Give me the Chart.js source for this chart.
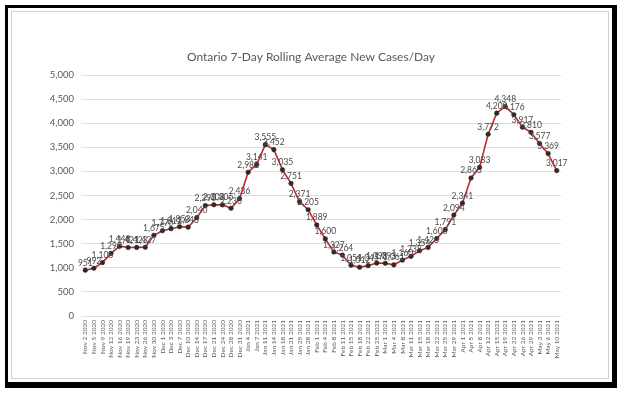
<!DOCTYPE html>
<html>
<head>
<meta charset="utf-8">
<script src="https://cdn.jsdelivr.net/npm/chart.js@4/dist/chart.umd.min.js"></script>
<style>
  html, body { margin: 0; padding: 0; background: #fff; }
  #wrap { position: relative; width: 624px; height: 394px; overflow: hidden; }
  #c { position: absolute; left: 0; top: 0; }
  #frame { position: absolute; left: 5px; top: 5px; width: 604px; height: 374px;
           border-left: 3px solid #000; border-top: 3px solid #000;
           border-right: 5px solid #000; border-bottom: 6px solid #000; pointer-events: none; }
  #inner { position: absolute; left: 11px; top: 11px; width: 596px; height: 366px;
           border: 1px solid #d0d0d0; pointer-events: none; }
</style>
</head>
<body>
<div id="wrap">
  <canvas id="c" width="624" height="394"></canvas>
  <div id="inner"></div>
  <div id="frame"></div>
</div>
<script>
const titleText = "Ontario 7-Day Rolling Average New Cases/Day";

const dates = [
  "Nov 2 2020","Nov 5 2020","Nov 9 2020","Nov 12 2020","Nov 16 2020","Nov 19 2020",
  "Nov 23 2020","Nov 26 2020","Nov 30 2020","Dec 1 2020","Dec 3 2020","Dec 7 2020",
  "Dec 10 2020","Dec 14 2020","Dec 17 2020","Dec 21 2020","Dec 24 2020","Dec 28 2020",
  "Dec 31 2020","Jan 4 2021","Jan 7 2021","Jan 11 2021","Jan 14 2021","Jan 18 2021",
  "Jan 21 2021","Jan 25 2021","Jan 28 2021","Feb 1 2021","Feb 4 2021","Feb 8 2021",
  "Feb 11 2021","Feb 15 2021","Feb 18 2021","Feb 22 2021","Feb 25 2021","Mar 1 2021",
  "Mar 4 2021","Mar 8 2021","Mar 11 2021","Mar 15 2021","Mar 18 2021","Mar 22 2021",
  "Mar 25 2021","Mar 29 2021","Apr 1 2021","Apr 5 2021","Apr 8 2021","Apr 12 2021",
  "Apr 15 2021","Apr 19 2021","Apr 22 2021","Apr 26 2021","Apr 29 2021","May 3 2021",
  "May 6 2021","May 10 2021"
];

const avgCases = [
  951, 992, 1108, 1299, 1448, 1421, 1423, 1427, 1675, 1770, 1812, 1853,
  1843, 2040, 2290, 2308, 2306, 2236, 2436, 2982, 3141, 3555, 3452, 3035,
  2751, 2371, 2205, 1889, 1600, 1327, 1264, 1054, 1012, 1045, 1098, 1093,
  1061, 1160, 1238, 1354, 1423, 1608, 1791, 2094, 2341, 2863, 3083, 3772,
  4208, 4348, 4176, 3917, 3810, 3577, 3369, 3017
];

const yMin = 0, yMax = 5000, yStep = 500;

const fmt = v => v.toLocaleString('en-US');

const pointLabels = {
  id: 'pointLabels',
  afterDatasetsDraw(chart) {
    const ctx = chart.ctx;
    const meta = chart.getDatasetMeta(0);
    const data = chart.data.datasets[0].data;
    ctx.save();
    ctx.font = '8.5px Lato, "Liberation Sans", sans-serif';
    ctx.fillStyle = '#4a4a4a';
    ctx.textAlign = 'center';
    ctx.textBaseline = 'bottom';
    meta.data.forEach((pt, i) => {
      ctx.fillText(fmt(data[i]), pt.x, pt.y - 3);
    });
    ctx.restore();
  }
};

const chartTitle = {
  id: 'chartTitle',
  afterDraw(chart) {
    const ctx = chart.ctx;
    ctx.save();
    ctx.font = '12px Lato, "Open Sans", sans-serif';
    ctx.fillStyle = '#595959';
    ctx.textAlign = 'center';
    ctx.textBaseline = 'middle';
    ctx.fillText(titleText, 311, 57);
    ctx.restore();
  }
};

new Chart(document.getElementById('c'), {
  type: 'line',
  data: {
    labels: dates,
    datasets: [{
      data: avgCases,
      borderColor: '#c0282a',
      borderWidth: 1.6,
      pointRadius: 2.3,
      pointBackgroundColor: '#2b2b2b',
      pointBorderColor: '#2b2b2b',
      pointBorderWidth: 0.5,
      tension: 0,
      fill: false
    }]
  },
  options: {
    responsive: false,
    animation: false,
    devicePixelRatio: 1,
    layout: { padding: { left: 0, right: 63, top: 75, bottom: 28 } },
    plugins: {
      legend: { display: false },
      tooltip: { enabled: false },
      title: { display: false }
    },
    scales: {
      x: {
        offset: true,
        grid: { display: false, drawTicks: false },
        border: { display: false },
        ticks: {
          autoSkip: false,
          minRotation: 90,
          maxRotation: 90,
          padding: 4,
          color: '#595959',
          font: { family: 'Lato, "Liberation Sans", sans-serif', size: 6.5 }
        },
        afterFit(scale) { scale.height = 50; }
      },
      y: {
        min: yMin,
        max: yMax,
        grid: { color: '#dedede', lineWidth: 1, drawTicks: false },
        border: { display: false },
        ticks: {
          stepSize: yStep,
          padding: 7,
          color: '#595959',
          font: { family: 'Lato, "Liberation Sans", sans-serif', size: 9.5 },
          callback: v => fmt(v)
        },
        afterFit(scale) { scale.width = 81; }
      }
    }
  },
  plugins: [pointLabels, chartTitle]
});
</script>
</body>
</html>
